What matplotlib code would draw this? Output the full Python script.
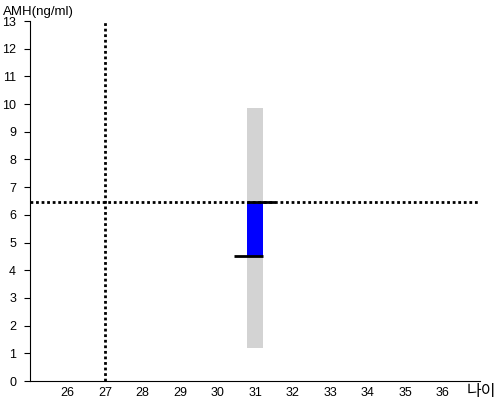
import matplotlib.pyplot as plt

plt.rcParams['font.family'] = ['Liberation Sans', 'Noto Sans CJK KR', 'DejaVu Sans']

x_ticks = [26, 27, 28, 29, 30, 31, 32, 33, 34, 35, 36]
y_ticks = list(range(0, 14))

age = 31
range_low, range_high = 1.2, 9.85     # gray range bar
box_low, box_high = 4.5, 6.45         # blue box
ref_age = 27
ref_amh = 6.45

fig = plt.figure(figsize=(5, 4), dpi=100)
ax = fig.add_axes([0.06, 0.0475, 0.9, 0.9])

ax.bar(age, range_high - range_low, bottom=range_low, width=0.43,
       color='#d3d3d3', zorder=1)
ax.bar(age, box_high - box_low, bottom=box_low, width=0.43,
       color='#0000ff', zorder=2)
ax.hlines(box_high, age - 0.215, age + 0.52, color='black', lw=2, zorder=3)
ax.hlines(box_low, age - 0.55, age + 0.215, color='black', lw=2, zorder=3)

ax.axhline(ref_amh, color='black', lw=2, ls=(0, (1, 1)), zorder=4)
ax.axvline(ref_age, color='black', lw=2, ls=(0, (1, 1)), zorder=4)

ax.set_xlim(25, 37)
ax.set_ylim(0, 13)
ax.set_xticks(x_ticks)
ax.set_yticks(y_ticks)
ax.tick_params(axis='x', length=0, labelsize=9, pad=4)
ax.tick_params(axis='y', length=4, labelsize=9, pad=6)

ax.spines['top'].set_visible(False)
ax.spines['right'].set_visible(False)

fig.text(0.006, 0.97, 'AMH(ng/ml)', fontsize=9.5, ha='left', va='center')
fig.text(0.993, 0.022, '나이', fontsize=11.5, ha='right', va='center')

fig.savefig('out.png')
